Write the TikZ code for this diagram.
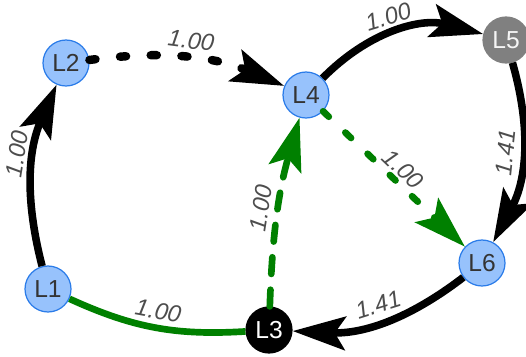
\documentclass[tikz,border=0pt]{standalone}
\usepackage{fontspec}
\setmainfont{Liberation Sans}
\usetikzlibrary{positioning,arrows.meta}
\definecolor{nodeblue}{HTML}{97C2FC}
\definecolor{nodeline}{HTML}{2B7CE9}
\definecolor{nodetext}{HTML}{343434}
\definecolor{wtext}{HTML}{4D4D4D}
\definecolor{pathgreen}{HTML}{008000}
\tikzset{
	font=\fontsize{14}{16}\selectfont,
	lnode/.style={circle, draw=nodeline, fill=nodeblue, line width=0.7pt,
		minimum size=0.92cm, inner sep=0pt, text=nodetext},
	wt/.style={sloped, above, inner sep=3pt, text=wtext,
		font=\fontsize{13.5}{15}\selectfont\itshape},
	link/.style={line width=4.3pt, -{Stealth[length=30pt, width=19pt, inset=6pt]}},
	glink/.style={link, pathgreen, line width=3.8pt}
}

\begin{document}
\begin{tikzpicture}[x=0.02cm, y=0.02cm]
	\useasboundingbox (0, 0) rectangle (526, 356);

	\node[lnode] (l1) at (48, 67) {L1};
	\node[lnode] (l2) at (66, 293) {L2};
	\node[lnode, fill=black, draw=black, text=white] (l3) at (269, 26) {L3};
	\node[lnode] (l4) at (306, 261) {L4};
	\node[lnode, fill=gray, draw=gray, text=white!92!gray] (l5) at (506, 316) {L5};
	\node[lnode] (l6) at (482, 93) {L6};

	% outer loop
	\draw[link] (l1) to[bend left=19] node[wt, pos=0.6] {1.00} (l2);
	\draw[link, line width=4.8pt, line cap=round, dash pattern=on 3.5pt off 14pt]
		(l2) to[bend left=15] node[wt] {1.00} (l4);
	\draw[link] (l4) to[bend left=30] node[wt, pos=0.48] {1.00} (l5);
	\draw[link] (l5) to[bend left=22] node[wt] {1.41} (l6);
	\draw[link] (l6) to[bend left=20] node[wt] {1.41} (l3);

	% green paths
	\draw[glink, -] (l1) to[bend right=14] node[wt] {1.00} (l3);
	\draw[glink, line cap=round, dash pattern=on 9.5pt off 9pt]
		(l3) to[bend left=7] node[wt] {1.00} (l4);
	\draw[glink, line cap=round, dash pattern=on 4.5pt off 13pt]
		(l4) to node[wt, inner sep=1pt] {1.00} (l6);
\end{tikzpicture}
\end{document}
